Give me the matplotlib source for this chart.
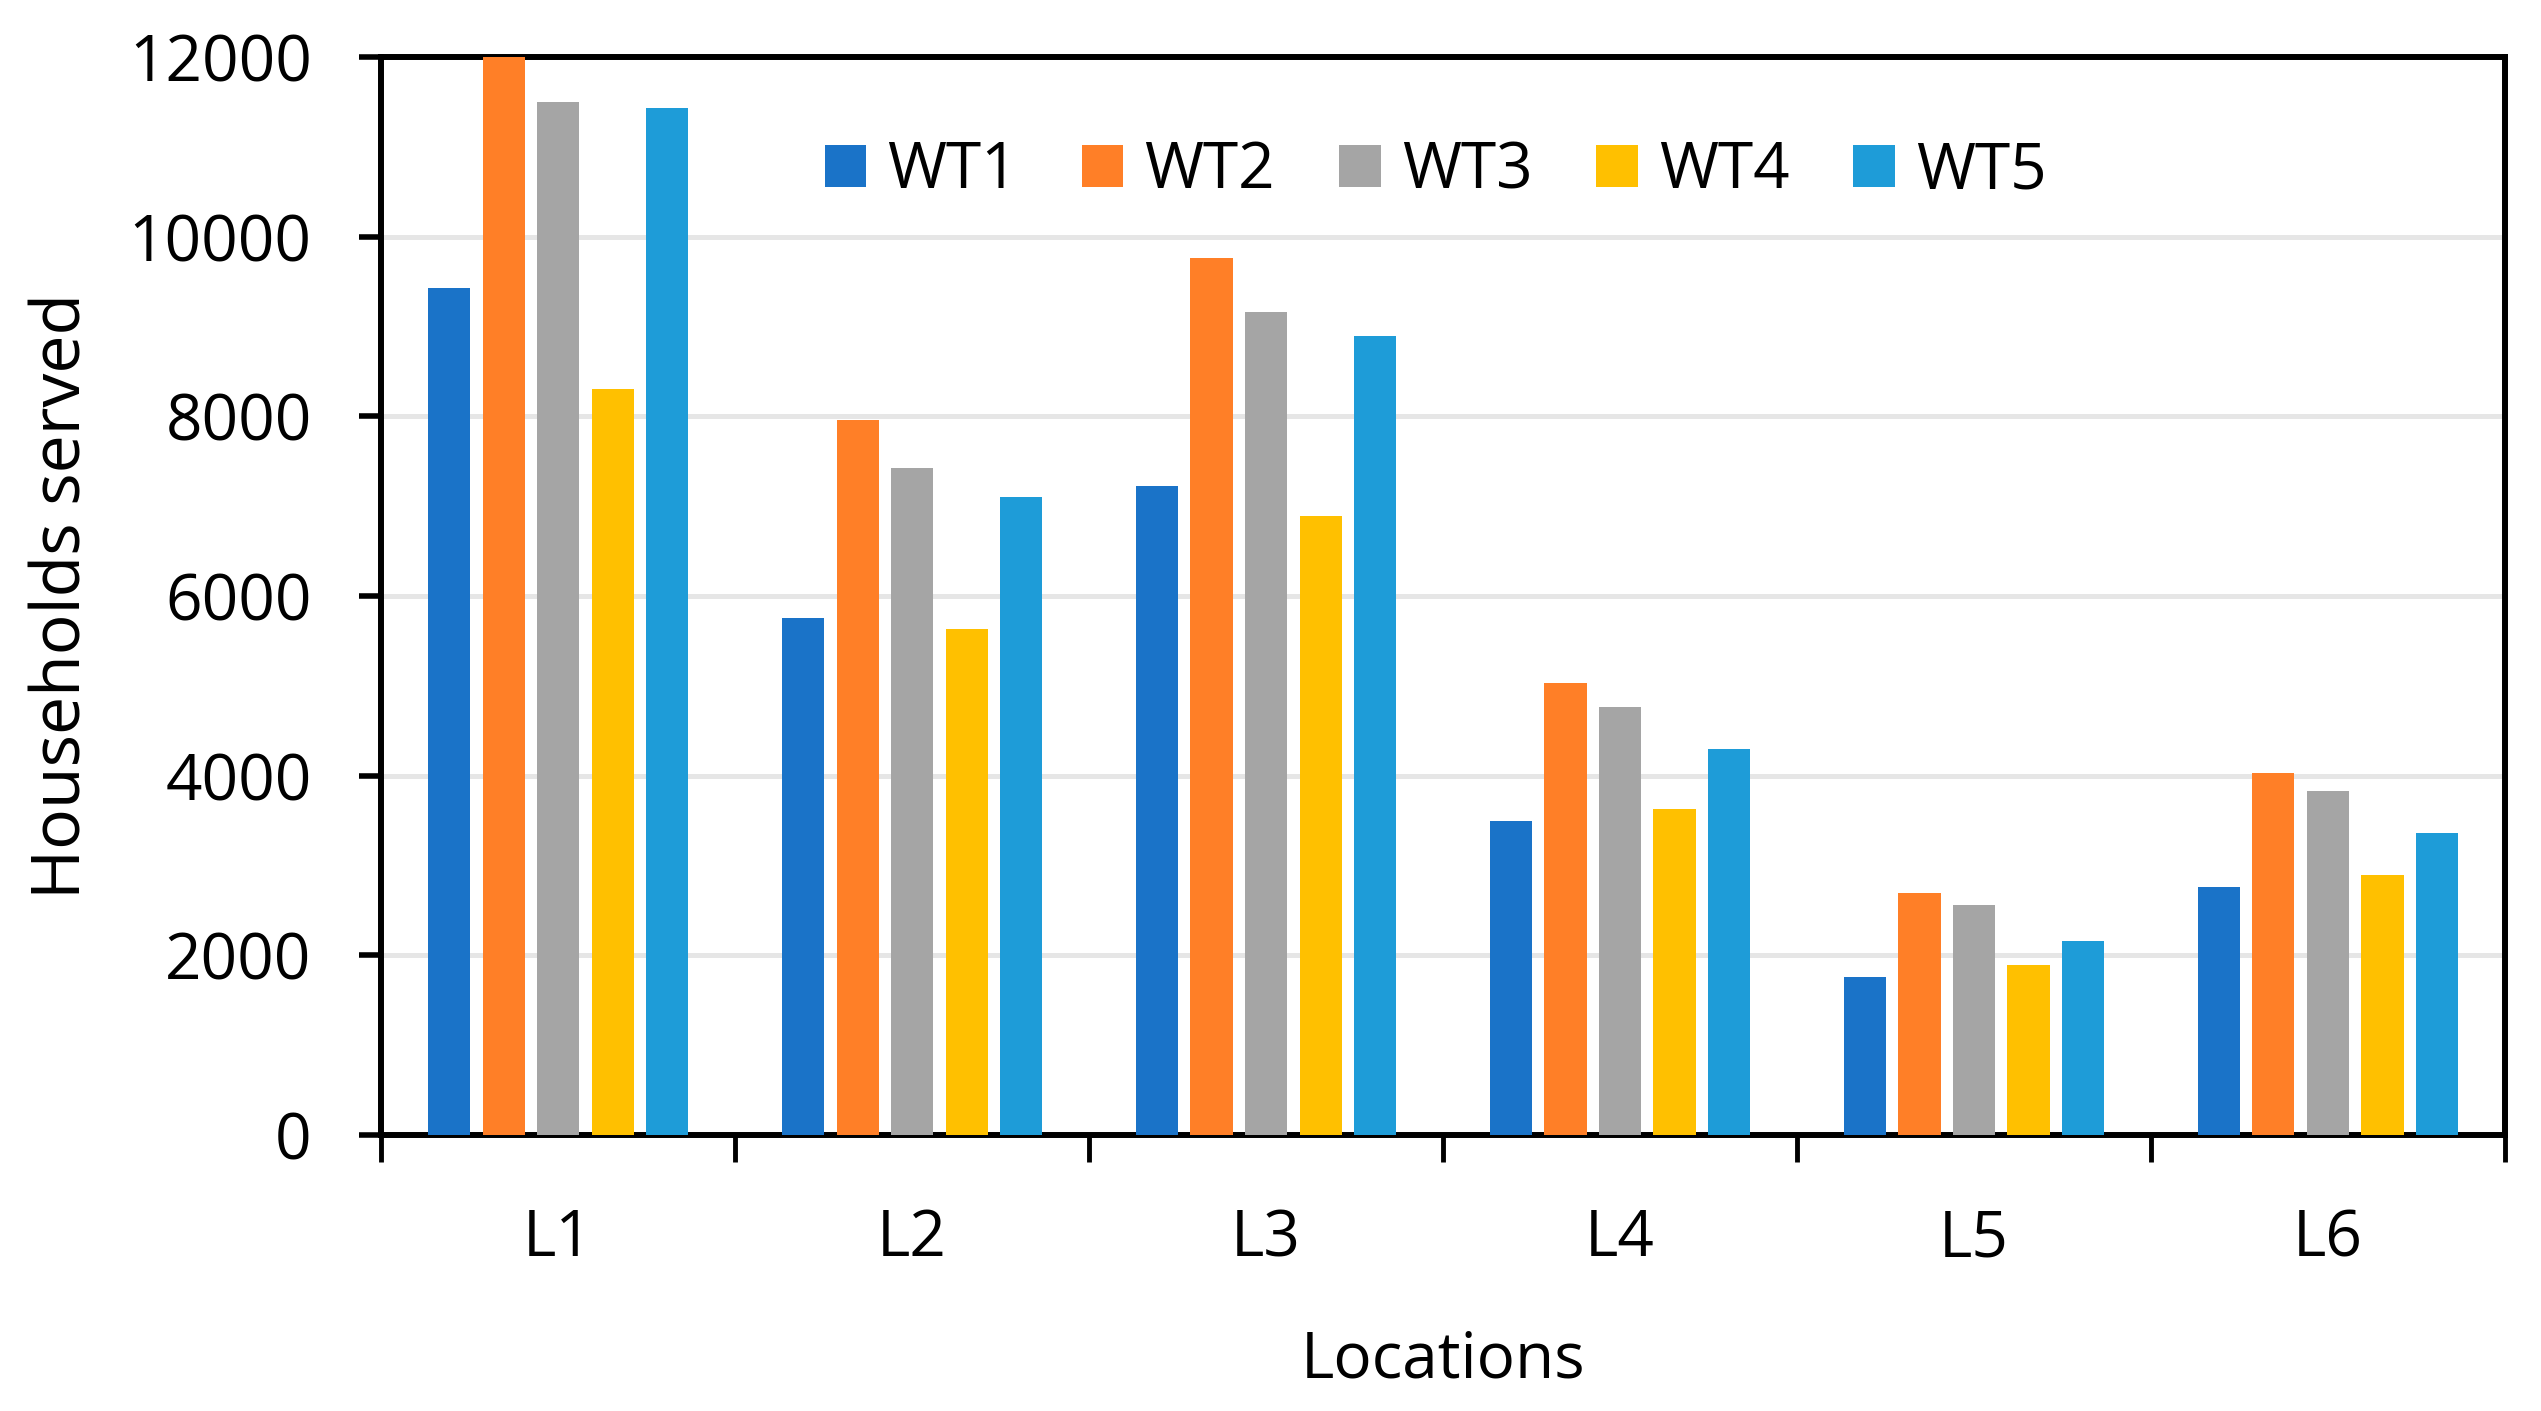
import matplotlib.pyplot as plt
import numpy as np

# 데이터
locations = ['L1', 'L2', 'L3', 'L4', 'L5', 'L6']
series_names = ['WT1', 'WT2', 'WT3', 'WT4', 'WT5']
wt1 = [9430, 5760, 7230, 3490, 1760, 2760]
wt2 = [12000, 7960, 9760, 5030, 2690, 4030]
wt3 = [11500, 7430, 9160, 4760, 2560, 3830]
wt4 = [8300, 5630, 6890, 3630, 1890, 2890]
wt5 = [11430, 7100, 8890, 4300, 2160, 3360]
y_ticks = [0, 2000, 4000, 6000, 8000, 10000, 12000]

colors = ['#1A73C8', '#FF7F27', '#A5A5A5', '#FFC000', '#1E9CD8']

plt.rcParams['font.family'] = ['Open Sans', 'DejaVu Sans']
fs = 46

# 기본틀 생성
fig = plt.figure(figsize=(25.41, 14.11), dpi=100)
ax = fig.add_axes([0.150, 0.1956, 0.8358, 0.764])

x = np.arange(len(locations))
pitch = 0.154
width = 0.119
for i, (name, vals) in enumerate(zip(series_names, [wt1, wt2, wt3, wt4, wt5])):
    ax.bar(x + (i - 2) * pitch, vals, width, color=colors[i], label=name, zorder=3)

# 축 설정
ax.set_xlim(-0.5, len(locations) - 0.5)
ax.set_ylim(0, 12000)
ax.set_yticks(y_ticks)
ax.set_yticklabels([str(v) for v in y_ticks], fontsize=fs)
ax.yaxis.grid(True, color='#E6E6E6', linewidth=3.6, zorder=0)
ax.tick_params(axis='y', length=16, width=4, pad=34, direction='out')

# x축: 가운데 라벨, 경계에 눈금
ax.set_xticks(x)
ax.set_xticklabels(locations, fontsize=fs)
ax.tick_params(axis='x', which='major', length=0, pad=52)
ax.set_xticks(np.arange(-0.5, len(locations)), minor=True)
ax.tick_params(axis='x', which='minor', length=19.5, width=3.5, direction='out')

for side in ['left', 'right', 'top', 'bottom']:
    ax.spines[side].set_linewidth(4.3)
    ax.spines[side].set_color('black')

# 라벨
ax.set_xlabel('Locations', fontsize=fs, va='center')
ax.xaxis.set_label_coords(0.5, -0.2096)
ax.set_ylabel('Households served', fontsize=49, va='center')
ax.yaxis.set_label_coords(-0.150, 0.5)

# 범례
ax.legend(ncol=5, loc='center', bbox_to_anchor=(0.4965, 0.894), frameon=False,
          fontsize=fs, handlelength=0.65, handleheight=0.65,
          handletextpad=0.33, columnspacing=1.0)

fig.savefig('out.png', dpi=100)
